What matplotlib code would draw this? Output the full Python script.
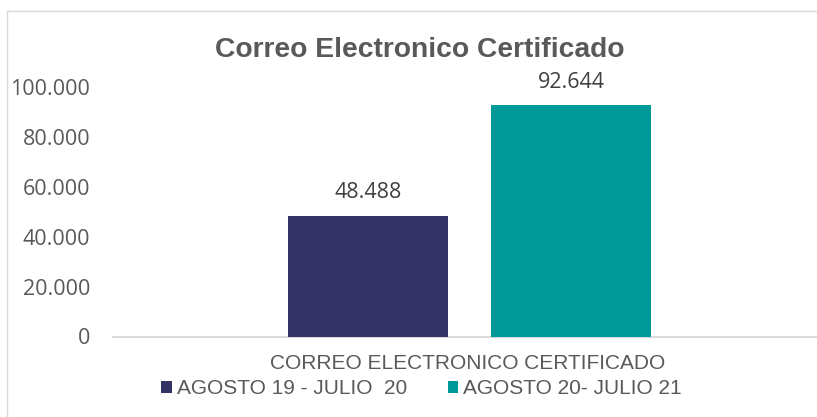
import matplotlib
matplotlib.use("Agg")
import matplotlib.pyplot as plt
from matplotlib.patches import Rectangle

title = "Correo Electronico Certificado"
category = "CORREO ELECTRONICO CERTIFICADO"
series_names = ["AGOSTO 19 - JULIO  20", "AGOSTO 20- JULIO 21"]
values = [48488, 92644]
colors = ["#333366", "#009999"]
yticks = [0, 20000, 40000, 60000, 80000, 100000]
ytick_labels = ["0", "20.000", "40.000", "60.000", "80.000", "100.000"]

W, H = 817, 417
fig = plt.figure(figsize=(W / 100, H / 100), dpi=100)
fig.patch.set_facecolor("white")

# chart frame
fig.add_artist(Rectangle((7 / W, -0.1), 1.2, 1.1 - 11 / H, transform=fig.transFigure,
                         fill=False, edgecolor="#d9d9d9", linewidth=1))

x0, x1 = 113, 826
ax = fig.add_axes([x0 / W, 1 - 336.5 / H, (x1 - x0) / W, (336.5 - 87) / H])
offsets = [-0.1424, 0.1424]
width = 0.2244
for off, v, c, name in zip(offsets, values, colors, series_names):
    ax.bar(off, v, width=width, color=c, label=name, zorder=3)
    ax.annotate(f"{v:,}".replace(",", "."), (off, v), xytext=(0, 12.3),
                textcoords="offset points", ha="center", va="baseline",
                fontsize=15.5, color="#404040", family="Open Sans")

ax.set_xlim(-0.5, 0.5)
ax.set_ylim(0, 100000)
ax.set_yticks(yticks)
ax.set_yticklabels(ytick_labels, family="Open Sans", fontsize=15.5, color="#595959")
ax.tick_params(axis="y", length=0, pad=16.5)
ax.set_xticks([])
for s in ["top", "right", "left"]:
    ax.spines[s].set_visible(False)
ax.spines["bottom"].set_color("#d9d9d9")
ax.spines["bottom"].set_linewidth(1.5)

fig.text(468 / W, 1 - 369 / H, category, ha="center", va="baseline",
         fontsize=15, color="#595959", family="Liberation Sans")
fig.text(420 / W, 1 - 57 / H, title, ha="center", va="baseline",
         fontsize=20.3, fontweight="bold", color="#595959", family="Liberation Sans")

leg = fig.legend(loc="center", bbox_to_anchor=(421.5 / W, 1 - 389 / H), ncol=2,
                 frameon=False, handlelength=0.52, handleheight=0.52, handletextpad=0.24,
                 columnspacing=1.95, borderpad=0, borderaxespad=0,
                 prop={"family": "Liberation Sans", "size": 15})
for t in leg.get_texts():
    t.set_color("#595959")

fig.savefig("out.png", dpi=100, facecolor="white")
